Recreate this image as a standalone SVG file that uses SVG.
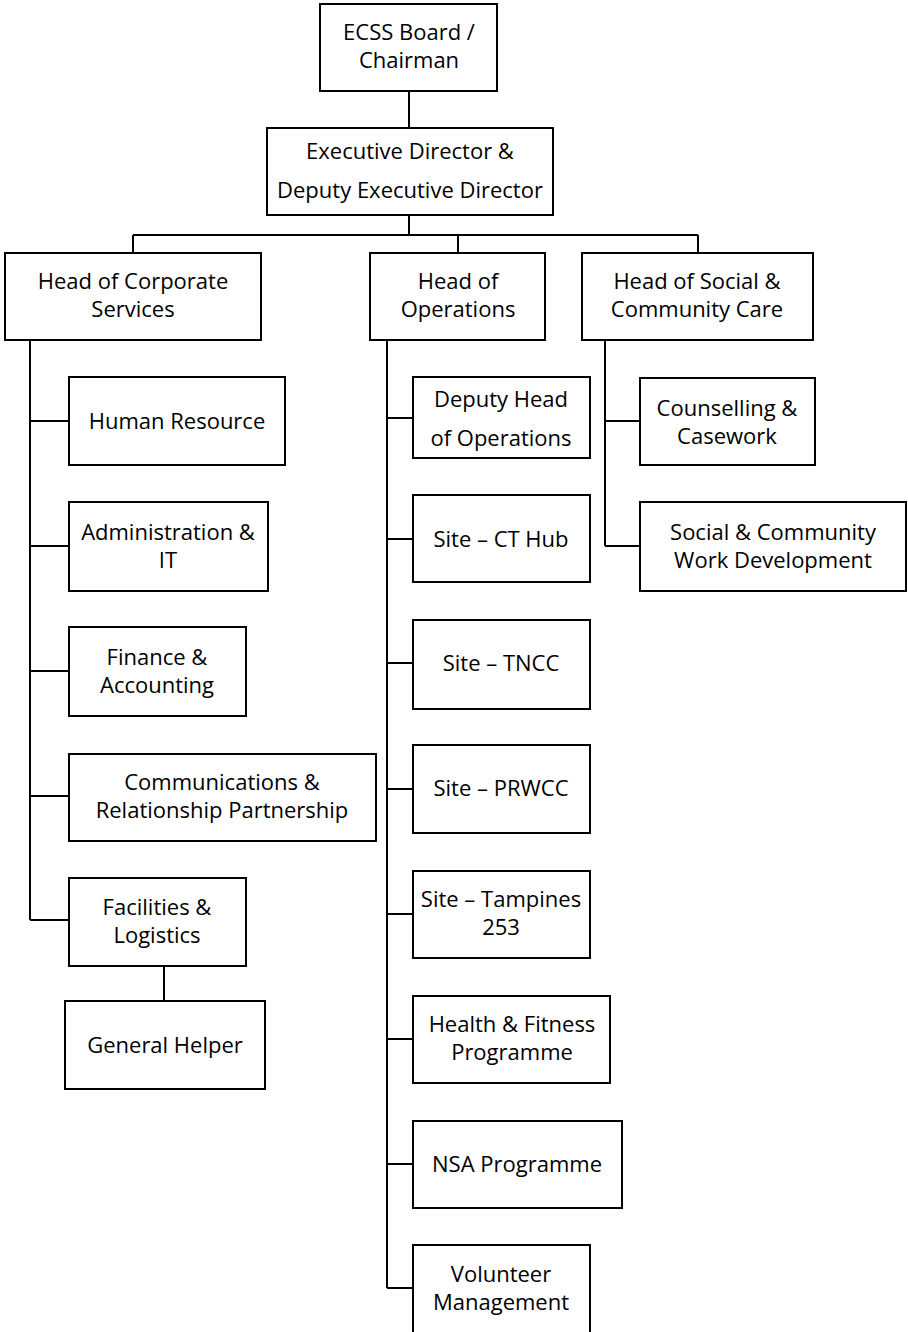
<svg xmlns="http://www.w3.org/2000/svg" width="908" height="1332" viewBox="0 0 908 1332">
<style>
rect{fill:#fff;stroke:#000;stroke-width:2}
.c line,.c path{stroke:#000;stroke-width:2;fill:none}
text{font-family:"Open Sans","Noto Sans","DejaVu Sans",sans-serif;font-size:22px;fill:#000;text-anchor:middle}
</style>
<rect x="0" y="0" width="908" height="1332" style="stroke:none"/>
<g class="c">
<line x1="409" y1="91" x2="409" y2="128"/>
<line x1="409" y1="215" x2="409" y2="235"/>
<line x1="133" y1="235" x2="698" y2="235"/>
<line x1="133" y1="235" x2="133" y2="253"/>
<line x1="458" y1="235" x2="458" y2="253"/>
<line x1="698" y1="235" x2="698" y2="253"/>
<path d="M30 340V920"/>
<line x1="30" y1="421" x2="69" y2="421"/>
<line x1="30" y1="546" x2="69" y2="546"/>
<line x1="30" y1="671" x2="69" y2="671"/>
<line x1="30" y1="796" x2="69" y2="796"/>
<line x1="30" y1="920" x2="69" y2="920"/>
<line x1="164" y1="966" x2="164" y2="1001"/>
<path d="M387 340V1288"/>
<line x1="387" y1="418" x2="413" y2="418"/>
<line x1="387" y1="539" x2="413" y2="539"/>
<line x1="387" y1="663" x2="413" y2="663"/>
<line x1="387" y1="789" x2="413" y2="789"/>
<line x1="387" y1="914" x2="413" y2="914"/>
<line x1="387" y1="1039" x2="413" y2="1039"/>
<line x1="387" y1="1164" x2="413" y2="1164"/>
<line x1="387" y1="1288" x2="413" y2="1288"/>
<path d="M605 340V546"/>
<line x1="605" y1="421" x2="640" y2="421"/>
<line x1="605" y1="546" x2="640" y2="546"/>
</g>
<g id="board"><rect x="320" y="4" width="177" height="87"/><text x="409" y="40">ECSS Board /</text><text x="409" y="68">Chairman</text></g>
<g id="exec"><rect x="267" y="128" width="286" height="87"/><text x="410" y="159">Executive Director &amp;</text><text x="410" y="198">Deputy Executive Director</text></g>
<g id="corp"><rect x="5" y="253" width="256" height="87"/><text x="133" y="289">Head of Corporate</text><text x="133" y="317">Services</text></g>
<g id="ops"><rect x="370" y="253" width="175" height="87"/><text x="458" y="289">Head of</text><text x="458" y="317">Operations</text></g>
<g id="social"><rect x="582" y="253" width="231" height="87"/><text x="697" y="289">Head of Social &amp;</text><text x="697" y="317">Community Care</text></g>
<g id="hr"><rect x="69" y="377" width="216" height="88"/><text x="177" y="429">Human Resource</text></g>
<g id="admin"><rect x="69" y="502" width="199" height="89"/><text x="168" y="540">Administration &amp;</text><text x="168" y="568">IT</text></g>
<g id="finance"><rect x="69" y="627" width="177" height="89"/><text x="157" y="665">Finance &amp;</text><text x="157" y="693">Accounting</text></g>
<g id="comms"><rect x="69" y="754" width="307" height="87"/><text x="222" y="790">Communications &amp;</text><text x="222" y="818">Relationship Partnership</text></g>
<g id="facilities"><rect x="69" y="878" width="177" height="88"/><text x="157" y="915">Facilities &amp;</text><text x="157" y="943">Logistics</text></g>
<g id="helper"><rect x="65" y="1001" width="200" height="88"/><text x="165" y="1053">General Helper</text></g>
<g id="deputy"><rect x="413" y="377" width="177" height="81"/><text x="501" y="407">Deputy Head</text><text x="501" y="446">of Operations</text></g>
<g id="cthub"><rect x="413" y="495" width="177" height="87"/><text x="501" y="547">Site – CT Hub</text></g>
<g id="tncc"><rect x="413" y="620" width="177" height="89"/><text x="501" y="671">Site – TNCC</text></g>
<g id="prwcc"><rect x="413" y="745" width="177" height="88"/><text x="501" y="796">Site – PRWCC</text></g>
<g id="tampines"><rect x="413" y="871" width="177" height="87"/><text x="501" y="907">Site – Tampines</text><text x="501" y="935">253</text></g>
<g id="health"><rect x="413" y="996" width="197" height="87"/><text x="512" y="1032">Health &amp; Fitness</text><text x="512" y="1060">Programme</text></g>
<g id="nsa"><rect x="413" y="1121" width="209" height="87"/><text x="517" y="1172">NSA Programme</text></g>
<g id="volunteer"><rect x="413" y="1245" width="177" height="90"/><text x="501" y="1282">Volunteer</text><text x="501" y="1310">Management</text></g>
<g id="counsel"><rect x="640" y="378" width="175" height="87"/><text x="727" y="416">Counselling &amp;</text><text x="727" y="444">Casework</text></g>
<g id="scwd"><rect x="640" y="502" width="266" height="89"/><text x="773" y="540">Social &amp; Community</text><text x="773" y="568">Work Development</text></g>
</svg>
